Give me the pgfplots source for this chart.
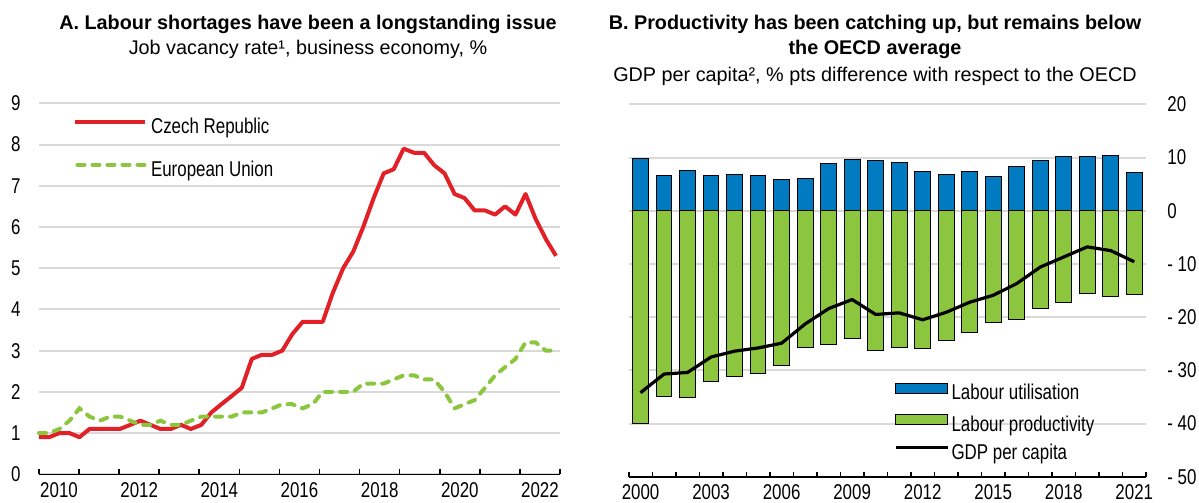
\documentclass[border=0pt]{standalone}
\usepackage{fontspec}
\setmainfont{Liberation Sans}
\newfontfamily\nf[FakeStretch=0.79]{Liberation Sans}
\usepackage{pgfplots}
\pgfplotsset{compat=1.18}
\definecolor{cred}{RGB}{225,32,39}
\definecolor{cgreen}{RGB}{140,198,63}
\definecolor{cblue}{RGB}{0,122,193}
\definecolor{cgrid}{RGB}{217,217,217}
\newcommand{\axfont}{\nf\fontsize{10.7pt}{12pt}\selectfont}
\begin{document}
\fontsize{9.9pt}{12pt}\selectfont
\begin{tikzpicture}
\path[use as bounding box] (0pt,0pt) rectangle (599.5pt,-251.5pt);
\node[font=\bfseries, anchor=base] at (154pt,-14.65pt) {A. Labour shortages have been a longstanding issue};
\node[anchor=base] at (154pt,-27.15pt) {Job vacancy rate¹, business economy, \%};
\node[font=\bfseries, anchor=base] at (437.5pt,-14.65pt) {B. Productivity has been catching up, but remains below};
\node[font=\bfseries, anchor=base] at (437.5pt,-27.4pt) {the OECD average};
\node[anchor=base] at (437.5pt,-40.75pt) {GDP per capita², \% pts difference with respect to the OECD};

\begin{axis}[
 at={(19.5pt,-237.15pt)}, anchor=south west, scale only axis,
 width=260.5pt, height=185.5pt,
 xmin=2010, xmax=2023, ymin=0, ymax=9,
 axis x line*=bottom, axis y line*=left,
 y axis line style={draw=none},
 x axis line style={line width=0.8pt},
 ticklabel style={font=\axfont},
 ytick={0,...,9}, yticklabels={0,1,2,3,4,5,6,7,8,9},
 ytick style={draw=none},
 yticklabel style={anchor=east, inner sep=0pt, xshift=-9pt},
 ymajorgrids, grid style={cgrid, line width=1pt},
 xtick={2010,...,2023}, xticklabels={},
 tick align=inside, major tick length=2.5pt,
 xtick style={black, line width=0.8pt},
 extra x ticks={2010.5,2012.5,2014.5,2016.5,2018.5,2020.5,2022.5},
 extra x tick labels={2010,2012,2014,2016,2018,2020,2022},
 extra x tick style={major tick length=0pt, xticklabel style={anchor=north, inner sep=0pt, yshift=-3.7pt}},
 clip=false,
 legend style={at={(axis cs:2010.85,8.6)}, anchor=north west, draw=none, fill=none,
   inner sep=0pt, row sep=12.35pt, column sep=1.8pt, cells={anchor=west}, font=\axfont,
   nodes={inner sep=0pt, text height=6.5pt, text depth=2pt}},
]
\addplot[cred, line width=2pt, line join=round, forget plot] coordinates {
(2010.00,0.9)(2010.25,0.9)(2010.51,1.0)(2010.76,1.0)(2011.01,0.9)(2011.26,1.1)(2011.52,1.1)(2011.77,1.1)
(2012.02,1.1)(2012.28,1.2)(2012.53,1.3)(2012.78,1.2)(2013.03,1.1)(2013.29,1.1)(2013.54,1.2)(2013.79,1.1)
(2014.05,1.2)(2014.30,1.5)(2014.55,1.7)(2014.81,1.9)(2015.06,2.1)(2015.31,2.8)(2015.56,2.9)(2015.82,2.9)
(2016.07,3.0)(2016.32,3.4)(2016.58,3.7)(2016.83,3.7)(2017.08,3.7)(2017.33,4.4)(2017.59,5.0)(2017.84,5.4)
(2018.09,6.0)(2018.35,6.7)(2018.60,7.3)(2018.85,7.4)(2019.10,7.9)(2019.36,7.8)(2019.61,7.8)(2019.86,7.5)
(2020.12,7.3)(2020.37,6.8)(2020.62,6.7)(2020.87,6.4)(2021.13,6.4)(2021.38,6.3)(2021.63,6.5)(2021.89,6.3)
(2022.14,6.8)(2022.39,6.2)(2022.65,5.7)(2022.90,5.3)};
\addplot[cgreen, line width=2pt, line cap=round, dash pattern=on 3.5pt off 4pt, forget plot] coordinates {
(2010.00,1.0)(2010.25,1.0)(2010.51,1.1)(2010.76,1.3)(2011.01,1.6)(2011.26,1.4)(2011.52,1.3)(2011.77,1.4)
(2012.02,1.4)(2012.28,1.3)(2012.53,1.2)(2012.78,1.2)(2013.03,1.3)(2013.29,1.2)(2013.54,1.2)(2013.79,1.3)
(2014.05,1.4)(2014.30,1.4)(2014.55,1.4)(2014.81,1.4)(2015.06,1.5)(2015.31,1.5)(2015.56,1.5)(2015.82,1.6)
(2016.07,1.7)(2016.32,1.7)(2016.58,1.6)(2016.83,1.7)(2017.08,2.0)(2017.33,2.0)(2017.59,2.0)(2017.84,2.0)
(2018.09,2.2)(2018.35,2.2)(2018.60,2.2)(2018.85,2.3)(2019.10,2.4)(2019.36,2.4)(2019.61,2.3)(2019.86,2.3)
(2020.12,2.0)(2020.37,1.6)(2020.62,1.7)(2020.87,1.8)(2021.13,2.1)(2021.38,2.4)(2021.63,2.6)(2021.89,2.8)
(2022.14,3.2)(2022.39,3.2)(2022.65,3.0)(2022.90,3.0)};
\addlegendimage{legend image code/.code={\draw[cred, line width=2pt] (0pt,3.6pt) -- (35pt,3.6pt);}}
\addlegendentry{Czech Republic}
\addlegendimage{legend image code/.code={\draw[cgreen, line width=2pt, line cap=round, dash pattern=on 3.5pt off 4pt] (1pt,3.6pt) -- (35pt,3.6pt);}}
\addlegendentry{European Union}
\end{axis}

\begin{axis}[
 at={(314.4pt,-238.35pt)}, anchor=south west, scale only axis,
 width=258.6pt, height=186.2pt,
 xmin=1999.5, xmax=2021.5, ymin=-50, ymax=20,
 axis x line*=bottom, axis y line*=right,
 y axis line style={draw=none}, ytick style={draw=none},
 x axis line style={line width=0.8pt},
 ticklabel style={font=\axfont},
 ytick={-50,-40,-30,-20,-10,0,10,20}, yticklabels={- 50,- 40,- 30,- 20,- 10,0,10,20},
 yticklabel style={anchor=west, inner sep=0pt, xshift=10.5pt},
 ymajorgrids, grid style={cgrid, line width=1pt},
 xtick={1999.5,2000.5,...,2021.5}, xticklabels={},
 tick align=inside, major tick length=2.5pt,
 xtick style={black, line width=0.8pt},
 extra x ticks={2000,2003,2006,2009,2012,2015,2018,2021},
 extra x tick labels={2000,2003,2006,2009,2012,2015,2018,2021},
 extra x tick style={major tick length=0pt, xticklabel style={anchor=north, inner sep=0pt, yshift=-3.7pt}},
 clip=false,
 legend style={at={(axis cs:2010.78,-32.3)}, anchor=north west, draw=none, fill=none,
   inner sep=0pt, row sep=5.2pt, column sep=1pt, cells={anchor=west}, font=\axfont,
   nodes={inner sep=0pt, text height=6.5pt, text depth=2pt}},
]
\addplot[ybar, bar width=0.67, bar shift=0pt, fill=cblue, draw=black, line width=0.5pt, forget plot] coordinates {
(2000,9.9)(2001,6.7)(2002,7.6)(2003,6.7)(2004,6.9)(2005,6.7)(2006,5.9)(2007,6.1)(2008,8.9)(2009,9.6)(2010,9.4)
(2011,9.1)(2012,7.4)(2013,6.9)(2014,7.3)(2015,6.4)(2016,8.4)(2017,9.5)(2018,10.2)(2019,10.2)(2020,10.3)(2021,7.1)};
\addplot[ybar, bar width=0.67, bar shift=0pt, fill=cgreen, draw=black, line width=0.5pt, forget plot] coordinates {
(2000,-40.0)(2001,-35.0)(2002,-35.2)(2003,-32.1)(2004,-31.1)(2005,-30.6)(2006,-29.1)(2007,-25.8)(2008,-25.1)(2009,-24.0)(2010,-26.3)
(2011,-25.8)(2012,-25.9)(2013,-24.4)(2014,-22.8)(2015,-21.1)(2016,-20.4)(2017,-18.4)(2018,-17.2)(2019,-15.5)(2020,-16.1)(2021,-15.7)};
\addplot[black, line width=1.6pt, line join=round, sharp plot, forget plot] coordinates {
(2000,-34.2)(2001,-30.7)(2002,-30.4)(2003,-27.5)(2004,-26.4)(2005,-25.8)(2006,-24.9)(2007,-21.3)(2008,-18.4)(2009,-16.7)(2010,-19.5)
(2011,-19.2)(2012,-20.5)(2013,-19.1)(2014,-17.2)(2015,-15.9)(2016,-13.7)(2017,-10.6)(2018,-8.7)(2019,-6.8)(2020,-7.5)(2021,-9.6)};
\addlegendimage{legend image code/.code={\draw[fill=cblue, draw=black, line width=0.5pt] (0pt,1.2pt) rectangle (26pt,6pt);}}
\addlegendentry{Labour utilisation}
\addlegendimage{legend image code/.code={\draw[fill=cgreen, draw=black, line width=0.5pt] (0pt,1.2pt) rectangle (26pt,6pt);}}
\addlegendentry{Labour productivity}
\addlegendimage{legend image code/.code={\draw[black, line width=1.6pt] (0pt,3.6pt) -- (26pt,3.6pt);}}
\addlegendentry{GDP per capita}
\end{axis}
\end{tikzpicture}
\end{document}
